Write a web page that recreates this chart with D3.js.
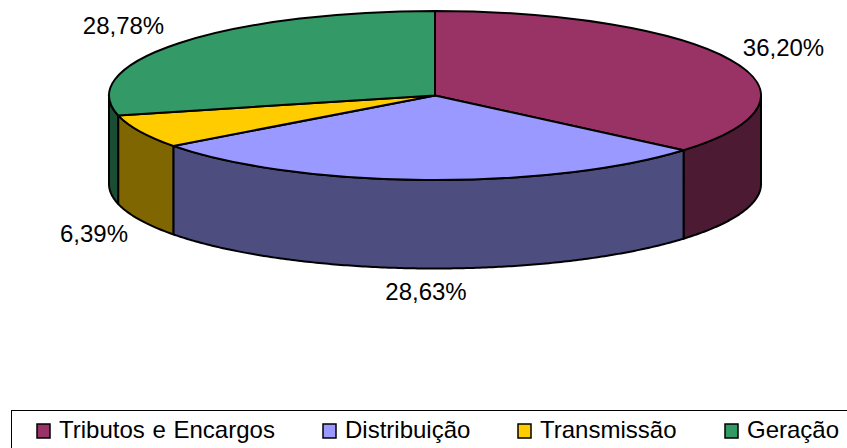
<!DOCTYPE html>
<html>
<head>
<meta charset="utf-8">
<script src="https://cdn.jsdelivr.net/npm/d3@7"></script>
<style>
  html, body { margin: 0; padding: 0; background: #fff; }
  svg { display: block; }
  text { font-family: "Liberation Sans", Arial, sans-serif; fill: #000; }
</style>
</head>
<body>
<div id="G"></div>
<script>
// values
var categories = ["Tributos e Encargos", "Distribuição", "Transmissão", "Geração"];
var shares = [36.20, 28.63, 6.39, 28.78];
var labels = ["36,20%", "28,63%", "6,39%", "28,78%"];
var topColors = ["#993366", "#9999ff", "#ffcc00", "#339966"];
var wallColors = ["#4d1a33", "#4d4d80", "#806600", "#1a4d33"];

var width = 847, height = 448;
var cx = 435, cy = 95.5, rx = 326, ry = 84.5, depth = 88.5;

var svg = d3.select("#G")
  .append("svg")
  .attr("width", width)
  .attr("height", height);

var slices = d3.pie().sort(null).value(d => d)(shares);

// pie angle -> x, y on the tilted ellipse
function px(a) { return cx + rx * Math.sin(a); }
function py(a, dz) { return cy - ry * Math.cos(a) + dz; }

// side walls, only the front half of the ellipse shows
var frontFrom = Math.PI / 2, frontTo = Math.PI * 1.5;

function wallPath(a0, a1) {
  var steps = d3.range(a0, a1, 0.01).concat([a1]);
  var line = d3.line().x(d => d[0]).y(d => d[1]);
  var pts = steps.map(a => [px(a), py(a, 0)])
    .concat(steps.slice().reverse().map(a => [px(a), py(a, depth)]));
  return line(pts) + "Z";
}

svg.append("g")
  .selectAll("path")
  .data(slices.filter(d => d.endAngle > frontFrom && d.startAngle < frontTo))
  .join("path")
  .attr("d", d => wallPath(Math.max(d.startAngle, frontFrom), Math.min(d.endAngle, frontTo)))
  .attr("fill", d => wallColors[d.index])
  .attr("stroke", "#000")
  .attr("stroke-width", 2)
  .attr("stroke-linejoin", "round");

// top faces, a flat d3.arc squashed to the ellipse
var arc = d3.arc().innerRadius(0).outerRadius(rx);

svg.append("g")
  .attr("transform", "translate(" + cx + "," + cy + ") scale(1," + (ry / rx) + ")")
  .selectAll("path")
  .data(slices)
  .join("path")
  .attr("d", arc)
  .attr("fill", d => topColors[d.index])
  .attr("stroke", "#000")
  .attr("stroke-width", 2)
  .attr("stroke-linejoin", "round")
  .attr("vector-effect", "non-scaling-stroke");

// data labels, placed by hand around the pie
var labelPos = [[783.5, 56], [426, 300], [94, 242], [123.5, 34]];

svg.append("g")
  .selectAll("text")
  .data(labels)
  .join("text")
  .attr("x", (d, i) => labelPos[i][0])
  .attr("y", (d, i) => labelPos[i][1])
  .attr("text-anchor", "middle")
  .attr("font-size", 24)
  .text(d => d);

// legend
svg.append("rect")
  .attr("x", 11.5)
  .attr("y", 410.5)
  .attr("width", 845)
  .attr("height", 50)
  .attr("fill", "#fff")
  .attr("stroke", "#000")
  .attr("stroke-width", 1);

var legendX = [37, 323, 518, 725];

var item = svg.append("g")
  .selectAll("g")
  .data(categories)
  .join("g")
  .attr("transform", (d, i) => "translate(" + legendX[i] + ",424)");

item.append("rect")
  .attr("width", 13)
  .attr("height", 14)
  .attr("fill", (d, i) => topColors[i])
  .attr("stroke", "#000")
  .attr("stroke-width", 1.5);

item.append("text")
  .attr("x", 22)
  .attr("y", 14)
  .attr("font-size", 24)
  .attr("word-spacing", 1)
  .text(d => d);
</script>
</body>
</html>
